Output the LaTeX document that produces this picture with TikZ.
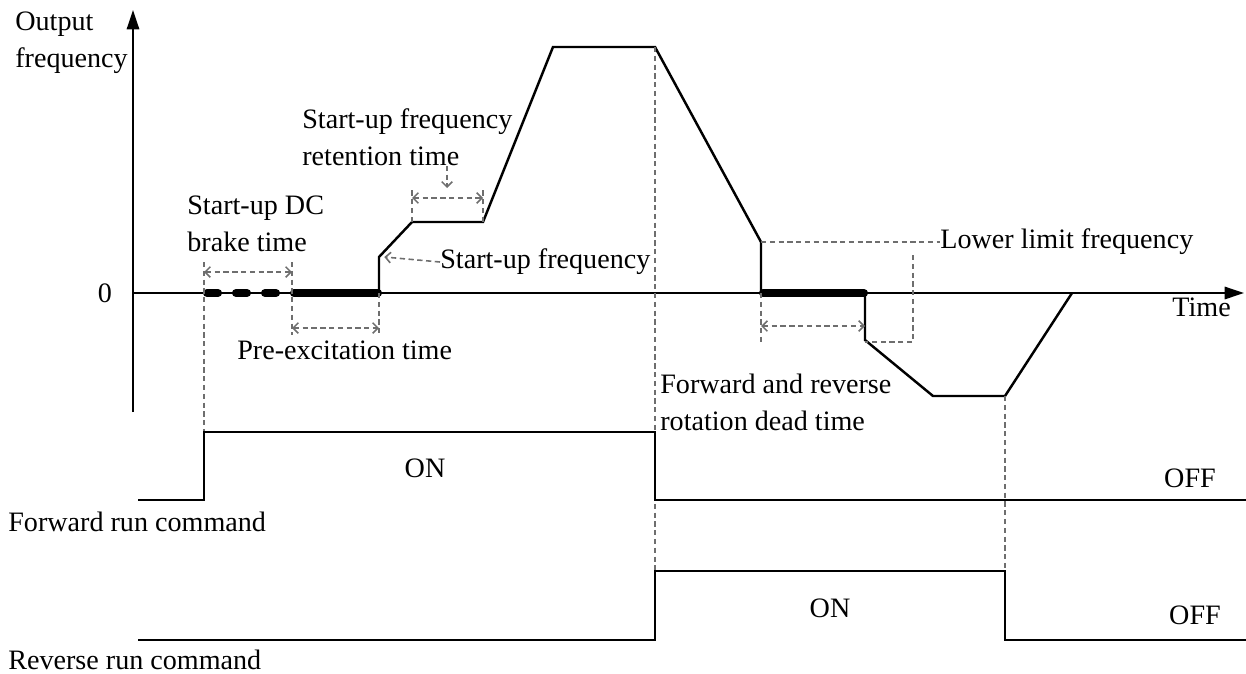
\documentclass[tikz,border=0pt]{standalone}
\usepackage{fontspec}
\setmainfont{Liberation Serif}
\usetikzlibrary{positioning,arrows.meta}
\definecolor{guideGray}{HTML}{6E6E6E}

\begin{document}
\begin{tikzpicture}[
    x=0.02cm, y=-0.02cm,
    label/.style={
        inner sep=0pt, align=left,
        font=\fontsize{16}{21}\selectfont
    },
    axis/.style={-{Triangle[length=11pt,width=7pt]}, line width=1.2pt},
    curve/.style={line width=1.4pt, line join=miter},
    hold/.style={line width=4.6pt, line cap=round},
    signal/.style={line width=1.2pt},
    guide/.style={draw=guideGray, line width=0.9pt, dash pattern=on 3pt off 2pt},
    span/.style={guide, {Straight Barb[length=3pt,width=6pt]}-{Straight Barb[length=3pt,width=6pt]}},
    pointer/.style={guide, -{Straight Barb[length=3pt,width=6pt]}}
]
  \useasboundingbox (0,0) rectangle (1246,673);

  % Axes
  \draw[axis] (133,412) -- (133,10);
  \draw[axis] (133,293) -- (1244,293);

  % Nodes
  \node[label, anchor=west] (outfreq) at (15,43) {Output\\frequency};
  \node[label] (zero) at (105,293) {0};
  \node[label, anchor=west] (retention) at (302,137) {Start-up frequency\\retention time};
  \node[label, anchor=west] (dcbrake) at (187,224) {Start-up DC\\brake time};
  \node[label, anchor=west] (sufreq) at (440,262) {Start-up frequency};
  \node[label, anchor=west] (preexc) at (237,350) {Pre-excitation time};
  \node[label, anchor=west] (lowlim) at (940,242) {Lower limit frequency};
  \node[label, anchor=west] (time) at (1172,307) {Time};
  \node[label, anchor=west] (deadtime) at (660,402) {Forward and reverse\\rotation dead time};
  \node[label] (fwdon) at (425,468) {ON};
  \node[label] (fwdoff) at (1190,478) {OFF};
  \node[label, anchor=west] (fwdcmd) at (8,522) {Forward run command};
  \node[label] (revon) at (830,608) {ON};
  \node[label] (revoff) at (1195,615) {OFF};
  \node[label, anchor=west] (revcmd) at (8,660) {Reverse run command};

  % Points on the curve
  \coordinate (sustep) at (379,257);
  \coordinate (lowstep) at (761,242);
  \coordinate (holdmid) at (447,188);

  % Output frequency curve
  \foreach \a in {207,236,265}
    \draw[hold] (\a,293) -- ++(11,0);
  \draw[hold] (294,293) -- (378,293);
  \draw[hold] (763,293) -- (864,293);
  \draw[curve] (379,293) -- (sustep) -- (412,222) -- (483,222) -- (553,47)
      -- (655,47) -- (lowstep) -- (761,293);
  \draw[curve] (865,293) -- (865,340) -- (933,396) -- (1005,396) -- (1072,293);

  % Guide lines
  \draw[guide] (204,262) -- (204,432);
  \draw[guide] (292,262) -- (292,335);
  \draw[guide] (379,293) -- (379,335);
  \draw[guide] (412,222) -- (412,188);
  \draw[guide] (483,222) -- (483,188);
  \draw[guide] (655,47) -- (655,571);
  \draw[guide] (761,293) -- (761,342);
  \draw[guide] (913,255) -- (913,342) -- (865,342);
  \draw[guide] (1005,396) -- (1005,571);
  \draw[guide] (lowstep) -- (lowlim.west);

  % Time spans
  \draw[span] (204,272) -- (292,272);
  \draw[span] (292,328) -- (379,328);
  \draw[span] (412,198) -- (483,198);
  \draw[span] (761,326) -- (865,326);

  % Pointers
  \draw[pointer] (sufreq.west) -- ([xshift=3pt]sustep);
  \draw[pointer] (holdmid |- retention.south) -- (holdmid);

  % Run commands
  \draw[signal] (138,500) -- (204,500) -- (204,432) -- (655,432) -- (655,500) -- (1246,500);
  \draw[signal] (138,640) -- (655,640) -- (655,571) -- (1005,571) -- (1005,640) -- (1246,640);

\end{tikzpicture}
\end{document}
